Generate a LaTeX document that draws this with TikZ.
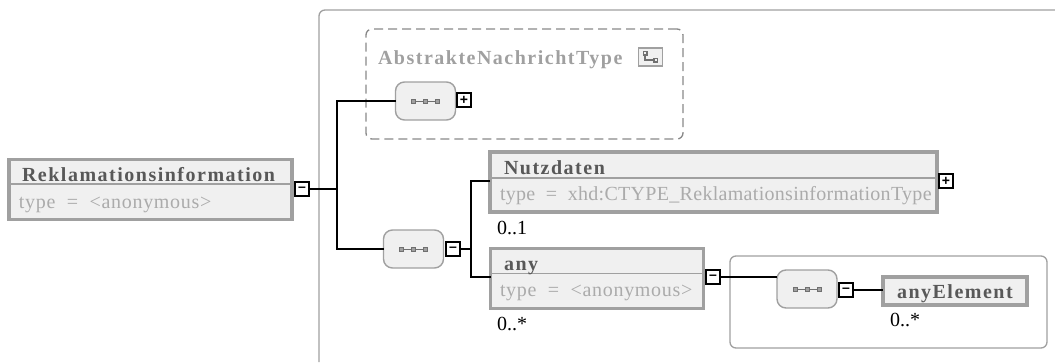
\documentclass[tikz,border=0pt]{standalone}
\usepackage{fontspec}
\setmainfont{Liberation Serif}
\newfontfamily\signfont{Liberation Sans}
\newfontfamily\typefont[WordSpace=2,LetterSpace=1.5]{Liberation Serif}
\newfontfamily\widefont[WordSpace=2,LetterSpace=3.5]{Liberation Serif}
\usepackage{tikz}
\usetikzlibrary{calc}
\definecolor{boxline}{HTML}{A0A0A0}
\definecolor{boxfill}{HTML}{F0F0F0}
\definecolor{titlegr}{HTML}{585858}
\definecolor{typegr}{HTML}{ABABAB}
\tikzstyle{xsd}=[x=1pt,y=-1pt, every node/.style={inner sep=0,outer sep=0}]
\tikzstyle{elem}=[draw=boxline,fill=boxfill,line width=3.6pt]
\tikzstyle{seq}=[draw=boxline,fill=boxfill,line width=1.4pt,rounded corners=9pt,
                minimum width=60pt,minimum height=38pt]
\tikzstyle{toggle}=[draw=black,fill=white,line width=1.8pt,minimum size=14pt,
                font=\fontsize{14}{14}\selectfont\signfont\bfseries,text=black]
\tikzstyle{title}=[anchor=base west,text=titlegr,
                font=\fontsize{20}{20}\selectfont\bfseries\addfontfeature{LetterSpace=7.5}]
\tikzstyle{typetext}=[anchor=base west,text=typegr,font=\fontsize{20}{20}\typefont]
\tikzstyle{typewide}=[anchor=base west,text=typegr,font=\fontsize{20}{20}\widefont]
\tikzstyle{occ}=[anchor=base west,text=black,font=\fontsize{20}{20}\selectfont]
\tikzstyle{wire}=[draw=black,line width=1.5pt]
\newcommand{\seqmark}[1]{%
  \draw[boxline!70!black,line width=.8pt] ($(#1.center)+(-12,0)$) -- ($(#1.center)+(12,0)$);
  \foreach \dx in {-12,0,12}
    \draw[boxline!70!black,fill=boxline,line width=1pt]
      ($(#1.center)+(\dx-2,-2)$) rectangle ($(#1.center)+(\dx+2,2)$);
}
\begin{document}
\begin{tikzpicture}[xsd]
    \path[use as bounding box] (0,0) rectangle (1055,362);
    % panels
    \draw[boxline,line width=1.3pt,rounded corners=6pt] (319,362) -- (319,10) -- (1070,10);
    \node[draw=boxline,line width=1.3pt,rounded corners=6pt,minimum width=317pt,
          minimum height=92pt] (panelAny) at (888.5,302) {};
    \node[draw=boxline!85!black,dashed,dash pattern=on 9pt off 5pt,line width=1.3pt,rounded corners=6pt,
          minimum width=317pt,minimum height=110pt] (groupType) at (524.5,84) {};
    % element boxes
    \node[elem,minimum width=283pt,minimum height=60pt] (rekl) at (150.5,189.5) {};
    \node[elem,minimum width=447pt,minimum height=60pt] (nutz) at (713.5,182) {};
    \node[elem,minimum width=213pt,minimum height=60pt] (any) at (597,278.5) {};
    \node[elem,minimum width=144pt,minimum height=28pt] (anyEl) at (955,291) {};
    \draw[boxline,line width=1.5pt] (rekl.west |- 0,184) -- (rekl.east |- 0,184);
    \draw[boxline,line width=1.5pt] (nutz.west |- 0,178) -- (nutz.east |- 0,178);
    \draw[boxline,line width=1.5pt] (any.west |- 0,273.5) -- (any.east |- 0,273.5);
    % texts
    \node[title] (reklT) at (22,181) {Reklamationsinformation};
    \node[typewide] (reklV) at (19,208) {type = <anonymous>};
    \node[title] (nutzT) at (504,174) {Nutzdaten};
    \node[typetext] (nutzV) at (500,200) {type = xhd:CTYPE\_ReklamationsinformationType};
    \node[title] (anyT) at (504,270) {any};
    \node[typewide] (anyV) at (500,296) {type = <anonymous>};
    \node[title] (anyElT) at (897,298) {anyElement};
    \node[title,text=boxline] (groupT) at (378,64) {AbstrakteNachrichtType};
    \node[occ] (occN) at (497,234) {0..1};
    \node[occ] (occA) at (497,330) {0..*};
    \node[occ] (occE) at (890,326) {0..*};
    % type icon
    \node[draw=boxline,fill=boxfill,line width=1.6pt,minimum width=24pt,minimum height=18pt] (typeIcon) at (650.5,57) {};
    \draw[boxline!70!black,line width=1.2pt] (645,53) |- (655,60);
    \draw[boxline!70!black,fill=boxfill,line width=1.2pt] (643.5,51.5) rectangle (647,55);
    \draw[boxline!70!black,fill=boxfill,line width=1.2pt] (654,58.5) rectangle (657.5,62);
    % sequences
    \node[seq] (seqA) at (425.5,101) {};
    \node[seq] (seqB) at (413.5,249) {};
    \node[seq] (seqC) at (807,289) {};
    \seqmark{seqA}
    \seqmark{seqB}
    \seqmark{seqC}
    % toggles
    \node[toggle] (togR) at (302,189) {–};
    \node[toggle] (togA) at (464,100) {+};
    \node[toggle] (togB) at (453,249) {–};
    \node[toggle] (togN) at (946,181) {+};
    \node[toggle] (togY) at (713,277) {–};
    \node[toggle] (togC) at (846,290) {–};
    % wires
    \coordinate (busR) at (337,189);
    \coordinate (busB) at (471,249);
    \draw[wire] (togR) -- (busR);
    \draw[wire] (seqA.west) -| (busR);
    \draw[wire] (seqB.west) -| (busR);
    \draw[wire] (togB) -- (busB);
    \draw[wire] (nutz.west |- 0,181) -| (busB);
    \draw[wire] (any.west |- 0,277) -| (busB);
    \draw[wire] (togY) -- (seqC.west |- togY);
    \draw[wire] (togC) -- (anyEl.west |- togC);
\end{tikzpicture}
\end{document}
